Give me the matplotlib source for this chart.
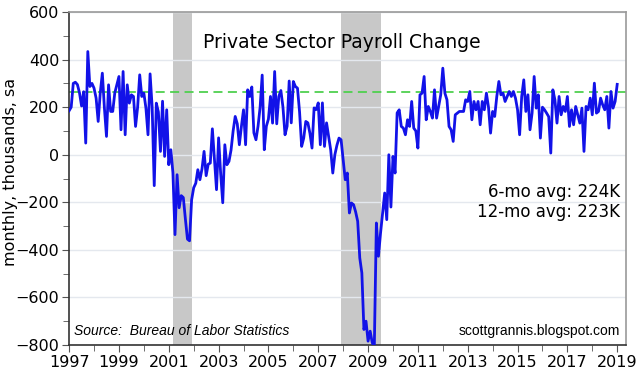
import matplotlib.pyplot as plt
import numpy as np

# monthly change in private payrolls, thousands, Jan 1997 .. Jan 2019
payrolls = [
    185, 200, 300, 305, 295, 260, 205, 265, 49, 434, 287, 300,          # 1997
    280, 238, 140, 260, 343, 196, 77, 294, 182, 182, 260, 294,          # 1998
    329, 105, 350, 84, 294, 217, 252, 245, 119, 200, 336, 245,          # 1999
    259, 196, 84, 340, 200, -130, 217, 180, 14, 225, -7, 189,           # 2000
    -42, 21, -76, -336, -84, -223, -172, -180, -270, -355, -362, -190,  # 2001
    -139, -120, -63, -105, -60, 14, -88, -40, -35, 109, -20, -147,      # 2002
    71, -80, -202, 42, -42, -28, 20, 100, 161, 130, 42, 120,            # 2003
    189, 42, 273, 245, 285, 92, 63, 120, 200, 335, 21, 120,             # 2004
    150, 245, 133, 350, 130, 245, 270, 200, 84, 120, 310, 134,          # 2005
    308, 287, 280, 180, 35, 70, 140, 134, 90, 28, 197, 190,             # 2006
    218, 42, 218, 35, 134, 77, 20, -77, 0, 40, 70, 63,                  # 2007
    -20, -105, -77, -245, -203, -210, -240, -280, -434, -497, -735, -700,  # 2008
    -784, -742, -790, -810, -287, -427, -330, -245, -161, -273, 0, -220,   # 2009
    -7, -77, 176, 189, 119, 112, 84, 147, 119, 224, 112, 100,           # 2010
    28, 252, 259, 329, 147, 203, 182, 154, 273, 154, 203, 252,          # 2011
    364, 259, 231, 119, 105, 56, 168, 175, 182, 182, 182, 231,          # 2012
    224, 266, 147, 224, 189, 224, 126, 224, 189, 259, 200, 91,          # 2013
    182, 161, 245, 308, 252, 259, 224, 245, 266, 245, 266, 238,         # 2014
    189, 84, 245, 315, 182, 252, 105, 175, 329, 196, 252, 70,           # 2015
    200, 189, 175, 160, 7, 273, 231, 133, 245, 168, 203, 182,           # 2016
    245, 119, 189, 126, 203, 168, 133, 196, 14, 203, 189, 238,          # 2017
    168, 301, 175, 182, 238, 210, 189, 245, 112, 266, 196, 224,         # 2018
    296,                                                                # 2019
]
start_year = 1997
recessions = [(2001.17, 2001.92), (2007.92, 2009.5)]
ref_level = 265
avg_6mo = "224K"
avg_12mo = "223K"

months = start_year + np.arange(len(payrolls)) / 12.0

fig = plt.figure(figsize=(6.4, 3.77), dpi=100)
ax = fig.add_axes([0.108, 0.085, 0.87, 0.883])

for a, b in recessions:
    ax.axvspan(a, b, color='#c8c8c8', lw=0, zorder=1)

ax.axhline(ref_level, color='#4fd04f', ls=(0, (5, 3)), lw=1.3, zorder=2)
ax.plot(months, payrolls, color='#1212e8', lw=2.0, zorder=3)

ax.set_xlim(1997, 2019.35)
ax.set_ylim(-800, 600)
ax.set_yticks(np.arange(-800, 601, 200))
ax.set_yticks(np.arange(-800, 601, 100), minor=True)
ax.set_xticks(np.arange(1997, 2020, 2))
ax.set_xticks(np.arange(1997, 2020, 1), minor=True)
ax.grid(axis='y', color='#e4e8ee', lw=1, zorder=0)
ax.tick_params(axis='both', which='major', labelsize=11.5, direction='out', length=5,
               color='#555555', pad=2)
ax.tick_params(axis='both', which='minor', direction='out', length=4, color='#555555')

ax.set_ylabel('monthly, thousands, sa', fontsize=11.5)
ax.yaxis.set_label_coords(-0.092, 0.52)

for side in ['left', 'bottom']:
    ax.spines[side].set_color('#333333')
    ax.spines[side].set_linewidth(1.2)
for side in ['top', 'right']:
    ax.spines[side].set_color('#999999')
    ax.spines[side].set_linewidth(1.2)

ax.text(0.49, 0.91, 'Private Sector Payroll Change', transform=ax.transAxes,
        ha='center', va='center', fontsize=13.5)
ax.text(0.99, 0.46, '6-mo avg: ' + avg_6mo, transform=ax.transAxes,
        ha='right', va='center', fontsize=12)
ax.text(0.99, 0.40, '12-mo avg: ' + avg_12mo, transform=ax.transAxes,
        ha='right', va='center', fontsize=12)
ax.text(0.008, 0.02, 'Source:  Bureau of Labor Statistics', transform=ax.transAxes,
        ha='left', va='bottom', fontsize=10, style='italic', family='Liberation Sans')
ax.text(0.99, 0.02, 'scottgrannis.blogspot.com', transform=ax.transAxes,
        ha='right', va='bottom', fontsize=10, family='Liberation Sans')

plt.savefig('out.png', dpi=100)
